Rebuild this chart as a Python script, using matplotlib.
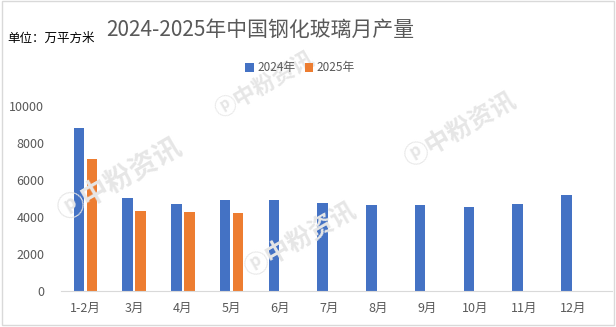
import numpy as np
import matplotlib
matplotlib.use("Agg")
import matplotlib.pyplot as plt
from matplotlib.patches import Rectangle

plt.rcParams['font.family'] = ['Noto Sans CJK SC', 'DejaVu Sans']

#-------------------------------------------
# data (万平方米)
months = ['1-2月', '3月', '4月', '5月', '6月', '7月', '8月', '9月', '10月', '11月', '12月']
prod_2024 = [8800, 5030, 4700, 4920, 4920, 4760, 4650, 4650, 4540, 4700, 5190]
prod_2025 = [7150, 4320, 4270, 4220]

blue = '#4472C4'
orange = '#ED7D31'
grey = '#595959'

fig = plt.figure(figsize=(6.16, 3.27), dpi=100)
ax = fig.add_axes([0.099, 0.110, 0.8945, 0.566])

x = np.arange(len(months))
w = 0.215
off = 0.133
ax.bar(x - off, prod_2024, width=w, color=blue, label='2024年', zorder=3)
ax.bar(x[:len(prod_2025)] + off, prod_2025, width=w, color=orange, label='2025年', zorder=3)

ax.set_ylim(0, 10000)
ax.set_xlim(-0.5, 10.8)
ax.set_yticks(np.arange(0, 10001, 2000))
ax.set_xticks(x)
ax.set_xticklabels(months)
ax.tick_params(axis='both', length=0, labelsize=9, colors=grey)
ax.tick_params(axis='y', pad=12)
ax.tick_params(axis='x', pad=8)
for s in ['top', 'right', 'left']:
  ax.spines[s].set_visible(False)
ax.spines['bottom'].set_color('#d9d9d9')
ax.spines['bottom'].set_zorder(4)
ax.patch.set_alpha(0)

# title, unit, legend
fig.text(260/616, 1-30/327, '2024-2025年中国钢化玻璃月产量', ha='center', va='center',
         fontsize=15, color=grey, fontweight='light')
fig.text(7/616, 1-38/327, '单位：万平方米', ha='left', va='center', fontsize=9, color='black')
fig.legend(loc='center', bbox_to_anchor=(300/616, 1-68/327), ncol=2, frameon=False,
           fontsize=8.5, handlelength=0.7, handleheight=0.7, handletextpad=0.3,
           columnspacing=0.8, labelcolor=grey)

# faint watermarks
marks = [(265, 85, 16), (120, 180, 20), (300, 240, 18), (460, 130, 18)]
for mx, my, fs in marks:
  fig.text(mx/616, 1-my/327, 'ⓟ中粉资讯', ha='center', va='center', rotation=30,
           fontsize=fs, color='#e6e6e6', zorder=0, fontweight='bold')

# thin border round the chart
fig.patches.append(Rectangle((0.003, 0.006), 0.994, 0.991, transform=fig.transFigure,
                             fill=False, edgecolor='#d9d9d9', linewidth=1))

fig.savefig('out.png', dpi=100)
